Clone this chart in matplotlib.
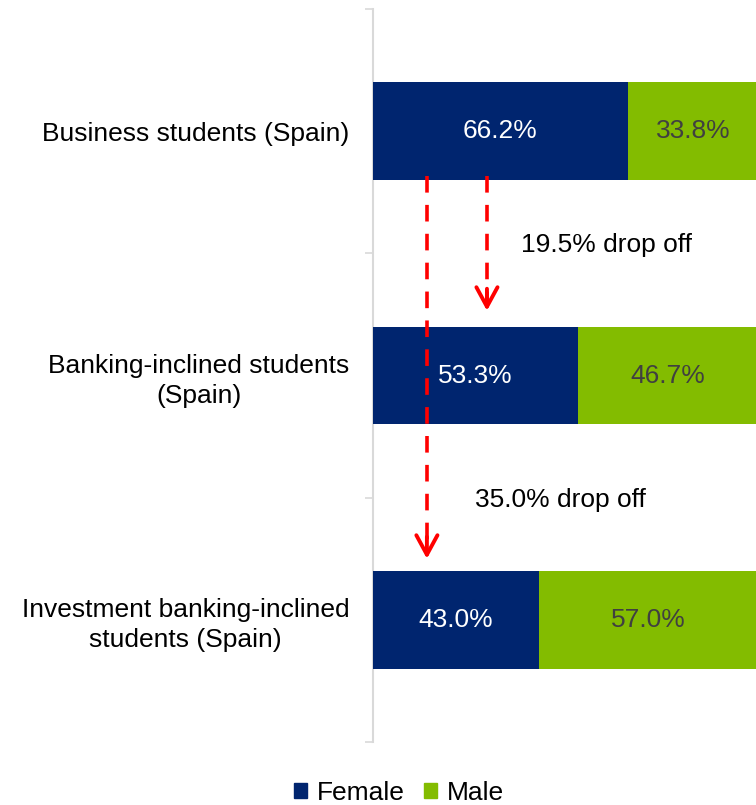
import numpy as np
import matplotlib.pyplot as plt
from matplotlib.ticker import FixedLocator
from matplotlib.patches import Patch

plt.rcParams['font.family'] = ['Liberation Sans', 'DejaVu Sans']

# student groups and gender split (%)
groups = [
    "Business students (Spain)",
    "Banking-inclined students\n(Spain)",
    "Investment banking-inclined\nstudents (Spain)",
]
female = [66.2, 53.3, 43.0]
male = [33.8, 46.7, 57.0]
drop_labels = ["19.5% drop off", "35.0% drop off"]

navy = "#00256F"
green = "#83BC00"
red = "#FF0000"
fs = 19

fig = plt.figure(figsize=(7.56, 8.05), dpi=100)
# axis runs a little past the right edge of the canvas
ax = fig.add_axes([373 / 756, 63 / 805, 385 / 756, 733 / 805])

y = np.arange(len(groups))
ax.barh(y, female, height=0.4, color=navy, zorder=3)
ax.barh(y, male, left=female, height=0.4, color=green, zorder=3)

for i in range(len(groups)):
    ax.text(female[i] / 2, y[i], f"{female[i]:.1f}%", color="white",
            ha="center", va="center", fontsize=fs, zorder=4)
    ax.text(female[i] + male[i] / 2, y[i], f"{male[i]:.1f}%", color="#404040",
            ha="center", va="center", fontsize=fs, zorder=4)

ax.set_xlim(0, 100)
ax.set_ylim(2.5, -0.5)

# category labels, ticks only at the band boundaries
ax.set_yticks(y)
ax.set_yticklabels(groups, fontsize=fs, multialignment="center", linespacing=1.3)
ax.tick_params(axis="y", which="major", length=0, pad=17)
ax.yaxis.set_minor_locator(FixedLocator([-0.5, 0.5, 1.5, 2.5]))
ax.tick_params(axis="y", which="minor", length=6, width=1.2, color="#D9D9D9")
ax.set_xticks([])

for s in ["top", "right", "bottom"]:
    ax.spines[s].set_visible(False)
ax.spines["left"].set_color("#D9D9D9")
ax.spines["left"].set_linewidth(1.5)

# dashed drop-off arrows from the top bar's female segment
for x0, y_tip in [(14.0, 1.75), (29.6, 0.735)]:
    ax.plot([x0, x0], [0.183, y_tip - 0.04], color=red, lw=2.6,
            linestyle=(0, (4.6, 3.4)), zorder=5, solid_capstyle="butt")
    ax.annotate("", xy=(x0, y_tip), xytext=(x0, y_tip - 0.09),
                arrowprops=dict(arrowstyle="->,head_length=0.7,head_width=0.38",
                                color=red, lw=2.8, mutation_scale=20,
                                shrinkA=0, shrinkB=0),
                zorder=5)

ax.text(38.5, 0.466, drop_labels[0], fontsize=fs, ha="left", va="center")
ax.text(26.4, 1.51, drop_labels[1], fontsize=fs, ha="left", va="center")

handles = [Patch(color=navy, label="Female"), Patch(color=green, label="Male")]
fig.legend(handles=handles, loc="center", bbox_to_anchor=(399 / 756, 1 - 793 / 805),
           ncol=2, frameon=False, fontsize=fs, handlelength=0.5, handleheight=0.5,
           handletextpad=0.35, columnspacing=0.75)

fig.savefig("out.png", dpi=100)
